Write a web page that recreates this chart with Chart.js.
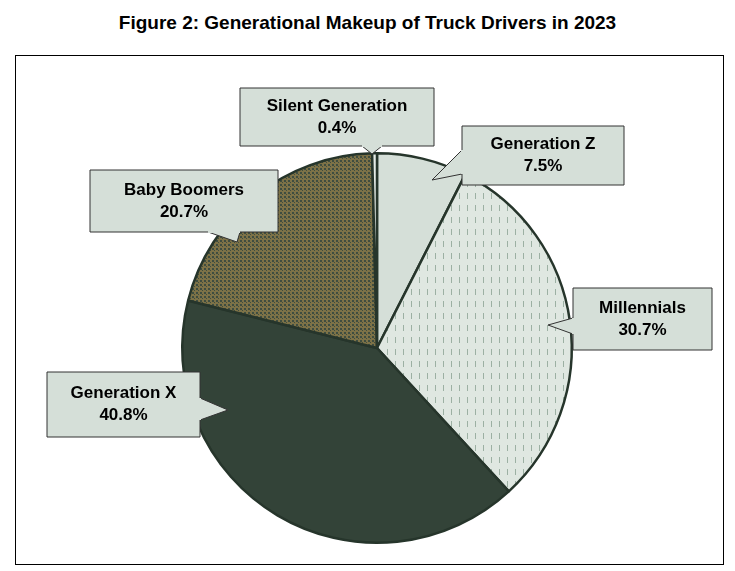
<!DOCTYPE html>
<html><head><meta charset="utf-8">
<script src="https://cdn.jsdelivr.net/npm/chart.js@4"></script>
<style>
body{margin:0;background:#fff;font-family:"Liberation Sans",Arial,sans-serif}
#title{position:absolute;left:0;top:12px;width:735px;text-align:center;font-weight:bold;font-size:19px;color:#000}
#frame{position:absolute;left:15px;top:55px;width:709px;height:510px;border:1px solid #000;box-sizing:border-box}
#wrap{position:absolute;left:0;top:0;width:735px;height:571px}
</style></head><body>
<div id="title">Figure 2: Generational Makeup of Truck Drivers in 2023</div>
<div id="frame"></div>
<div id="wrap"><canvas id="c" width="735" height="571"></canvas></div>
<script>
const labels = ['Generation Z', 'Millennials', 'Generation X', 'Baby Boomers', 'Silent Generation'];
const values = [7.5, 30.7, 40.8, 20.7, 0.4];

// motifs de remplissage
function dashPattern() {
  const p = document.createElement('canvas'); p.width = 8; p.height = 12;
  const g = p.getContext('2d');
  g.fillStyle = '#dfe7e1'; g.fillRect(0, 0, 8, 12);
  g.fillStyle = '#9cb0a3'; g.fillRect(3, 1, 1, 6);
  return g.createPattern(p, 'repeat');
}
function dotPattern() {
  const p = document.createElement('canvas'); p.width = 4; p.height = 4;
  const g = p.getContext('2d');
  g.fillStyle = '#7d7247'; g.fillRect(0, 0, 4, 4);
  g.fillStyle = '#3f4d40'; g.fillRect(0, 0, 2, 2); g.fillRect(2, 2, 1, 1);
  return g.createPattern(p, 'repeat');
}

// boîtes des étiquettes : [x1, y1, x2, y2, pointeX, pointeY]
const boxes = [
  [462, 126, 624, 185, 432, 180],
  [573, 288, 712, 350, 548, 325],
  [47, 372, 200, 437, 228, 410],
  [90, 170, 278, 232, 237, 242],
  [240, 88, 434, 146, 372, 154]
];
// bord d'attache de chaque pointe
const bases = [
  [[462, 150], [462, 174]],
  [[573, 318], [573, 334]],
  [[200, 398], [200, 420]],
  [[208, 232], [240, 232]],
  [[362, 146], [382, 146]]
];

const callouts = {
  id: 'callouts',
  afterDraw(chart) {
    const ctx = chart.ctx;
    ctx.save();
    boxes.forEach((b, i) => {
      const [x1, y1, x2, y2, px, py] = b;
      const [a, c] = bases[i];
      ctx.beginPath();
      ctx.fillStyle = '#d5dfd8'; ctx.strokeStyle = '#333'; ctx.lineWidth = 1;
      ctx.rect(x1, y1, x2 - x1, y2 - y1);
      ctx.fill(); ctx.stroke();
      ctx.beginPath();
      ctx.moveTo(a[0], a[1]); ctx.lineTo(px, py); ctx.lineTo(c[0], c[1]);
      ctx.fill(); ctx.stroke();
      ctx.beginPath(); ctx.strokeStyle = '#d5dfd8'; ctx.lineWidth = 2;
      ctx.moveTo(a[0], a[1]); ctx.lineTo(c[0], c[1]); ctx.stroke();
      ctx.fillStyle = '#000'; ctx.font = 'bold 17px "Liberation Sans", Arial';
      ctx.textAlign = 'center'; ctx.textBaseline = 'middle';
      const mx = (x1 + x2) / 2, my = (y1 + y2) / 2;
      ctx.fillText(labels[i], mx, my - 11);
      ctx.fillText(values[i].toFixed(1) + '%', mx, my + 11);
    });
    ctx.restore();
  }
};

new Chart(document.getElementById('c'), {
  type: 'pie',
  data: {
    labels: labels,
    datasets: [{
      data: values,
      backgroundColor: ['#d5dfd8', dashPattern(), '#334338', dotPattern(), '#e4ebe6'],
      borderColor: '#26352b',
      borderWidth: 2.5
    }]
  },
  options: {
    responsive: false,
    animation: false,
    layout: { padding: { left: 181, right: 162, top: 152, bottom: 27 } },
    plugins: { legend: { display: false }, tooltip: { enabled: false } }
  },
  plugins: [callouts]
});
</script>
</body></html>
